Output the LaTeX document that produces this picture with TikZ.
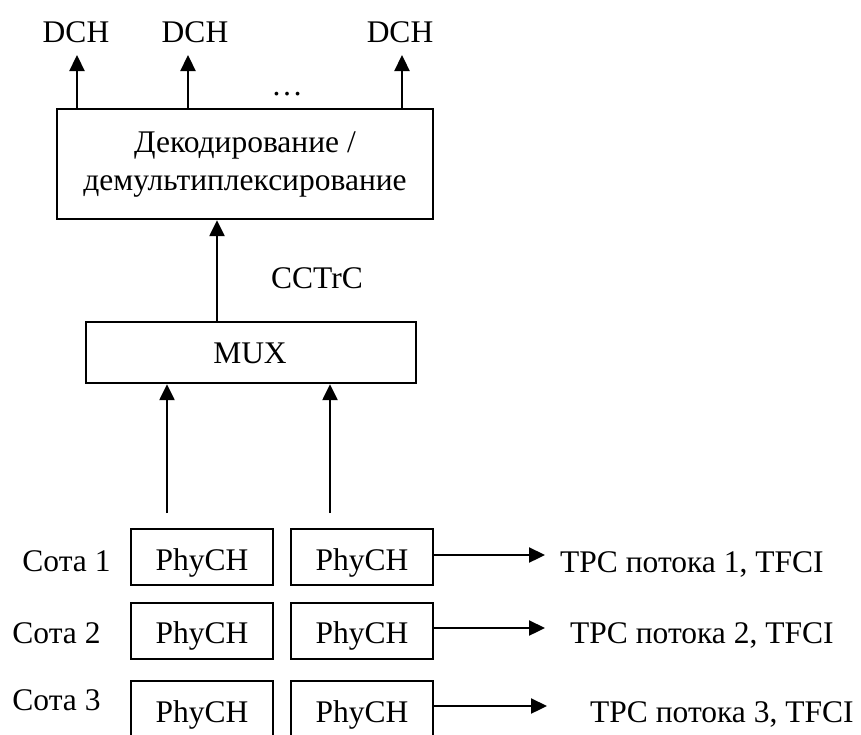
\documentclass[tikz,border=0pt]{standalone}
\usepackage{fontspec}
\setmainfont{Liberation Serif}
\usetikzlibrary{arrows.meta}
\begin{document}
\begin{tikzpicture}[x=1pt,y=-1pt,
  txt/.style={font=\fontsize{31.5}{38}\selectfont, inner sep=0pt, anchor=base},
  boxx/.style={draw, line width=2.3pt, inner sep=0pt},
  arr/.style={line width=2.3pt, -{Triangle[length=16pt,width=15pt]}}]
\clip (0,0) rectangle (861,734);
\useasboundingbox (0,0) rectangle (861,734);
% top labels
\node[txt] (dch1) at (76,42) {DCH};
\node[txt] (dch2) at (195,42) {DCH};
\node[txt] (dch3) at (400,42) {DCH};
\node[txt] (dots) at (287,95) {\ldots};
\coordinate (t1) at (77,55);
\coordinate (t2) at (188,55);
\coordinate (t3) at (402,55);
% decode box
\node[boxx, minimum width=376pt, minimum height=110pt] (dec) at (245,164) {};
\node[txt] (decl1) at (245,152) {Декодирование /};
\node[txt] (decl2) at (245,190) {демультиплексирование};
\draw[arr] (t1 |- dec.north) -- (t1);
\draw[arr] (t2 |- dec.north) -- (t2);
\draw[arr] (t3 |- dec.north) -- (t3);
% MUX
\node[boxx, minimum width=330pt, minimum height=61pt] (mux) at (251,352.5) {};
\node[txt] (muxl) at (250,363) {MUX};
\node[txt] (cctrc) at (317,288) {CCTrC};
\coordinate (mx) at (217,300);
\draw[arr] (mx |- mux.north) -- (mx |- dec.south);
% inputs to mux
\coordinate (in1) at (167,513);
\coordinate (in2) at (330,513);
\draw[arr] (in1) -- (in1 |- mux.south);
\draw[arr] (in2) -- (in2 |- mux.south);
% PhyCH rows
\foreach \r/\y/\b in {1/557/570, 2/631/643, 3/709/722}{
  \node[boxx, minimum width=142pt, minimum height=56pt] (l\r) at (202,\y) {};
  \node[boxx, minimum width=142pt, minimum height=56pt] (r\r) at (362,\y) {};
  \node[txt] (lt\r) at (202,\b) {PhyCH};
  \node[txt] (rt\r) at (362,\b) {PhyCH};
}
\node[txt] (s1) at (66.5,571) {Сота 1};
\node[txt] (s2) at (56.5,643) {Сота 2};
\node[txt] (s3) at (56.5,710) {Сота 3};
\node[txt, anchor=base west] (p1) at (560,572) {TPC потока 1, TFCI};
\node[txt, anchor=base west] (p2) at (570,643) {TPC потока 2, TFCI};
\node[txt, anchor=base west] (p3) at (590,722) {TPC потока 3, TFCI};
\coordinate (e1) at (545,555);
\coordinate (e2) at (545,628);
\coordinate (e3) at (547,706);
\draw[arr] (r1.east |- e1) -- (e1);
\draw[arr] (r2.east |- e2) -- (e2);
\draw[arr] (r3.east |- e3) -- (e3);
\end{tikzpicture}
\end{document}
